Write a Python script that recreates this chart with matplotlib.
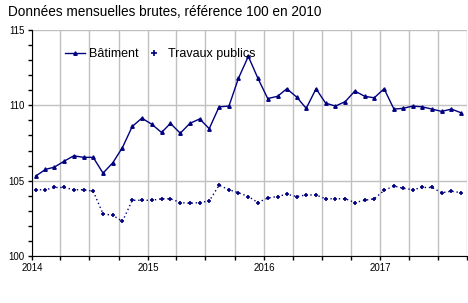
import pandas as pd
import matplotlib
matplotlib.use('Agg')
import matplotlib.pyplot as plt
from matplotlib.lines import Line2D

plt.rcParams['font.family'] = ['Liberation Sans', 'DejaVu Sans']

# Indices mensuels, janvier 2014 -> septembre 2017
batiment = [105.3, 105.75, 105.9, 106.3, 106.65, 106.55, 106.55, 105.5, 106.2, 107.2,
            108.6, 109.15, 108.75, 108.2, 108.8, 108.15, 108.8, 109.1, 108.45, 109.9,
            109.95, 111.8, 113.25, 111.8, 110.45, 110.6, 111.1, 110.55, 109.8, 111.1,
            110.15, 109.95, 110.25, 110.95, 110.6, 110.5, 111.1, 109.75, 109.8, 109.95,
            109.9, 109.75, 109.6, 109.75, 109.5]
travaux = [104.4, 104.4, 104.55, 104.55, 104.4, 104.4, 104.3, 102.8, 102.7, 102.3,
           103.7, 103.7, 103.7, 103.8, 103.8, 103.55, 103.5, 103.55, 103.65, 104.7,
           104.4, 104.2, 103.95, 103.55, 103.85, 103.95, 104.1, 103.95, 104.05, 104.05,
           103.8, 103.8, 103.8, 103.55, 103.7, 103.8, 104.35, 104.65, 104.5, 104.4,
           104.55, 104.55, 104.2, 104.3, 104.2]
annees = ['2014', '2015', '2016', '2017']

dates = pd.date_range('2014-01-01', periods=len(batiment), freq='MS') + pd.Timedelta(days=12)
couleur = '#000080'

fig = plt.figure(figsize=(4.68, 3.03), dpi=100)
ax = fig.add_axes([0.068, 0.155, 0.93, 0.746])

ax.plot(dates, batiment, color=couleur, linewidth=1, marker='^', markersize=2.5)
ax.plot(dates, travaux, color=couleur, linewidth=1, linestyle=(0, (1, 2)), marker='+',
        markersize=3.5, markeredgewidth=1.2)

ax.set_ylim(100, 115)
ax.set_yticks([100, 105, 110, 115])
ax.set_yticks(range(100, 116), minor=True)
ax.set_xlim(pd.Timestamp('2014-01-01'), pd.Timestamp('2017-10-01'))

trimestres = pd.date_range('2014-01-01', '2017-10-01', freq='QS')
ax.set_xticks(trimestres)
ax.set_xticklabels([annees[d.year - 2014] if d.month == 1 else '' for d in trimestres])

ax.grid(True, which='major', color='#c0c0c0', linewidth=1)
ax.set_axisbelow(True)
for s in ['top', 'right']:
    ax.spines[s].set_visible(False)
ax.tick_params(axis='both', which='both', labelsize=7, length=3, width=1, pad=2)

poignees = [Line2D([], [], color=couleur, linewidth=1, marker='^', markersize=2.5),
            Line2D([], [], color=couleur, linestyle='none', marker='+',
                   markersize=4, markeredgewidth=1.2)]
ax.legend(poignees, ['Bâtiment', 'Travaux publics'], loc='upper left',
          bbox_to_anchor=(0.05, 0.97), ncol=2, frameon=False, fontsize=9,
          handlelength=1.6, columnspacing=0.5, handletextpad=0.3)

fig.text(0.017, 0.96, 'Données mensuelles brutes, référence 100 en 2010',
         fontsize=9.8, va='center')

fig.savefig('out.png', dpi=100)
